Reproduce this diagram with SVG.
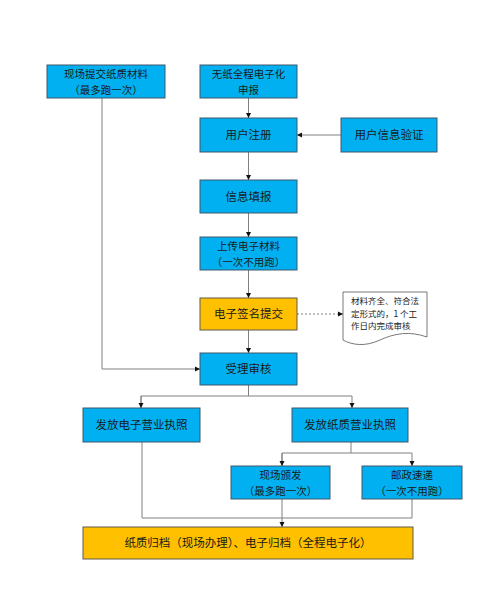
<svg xmlns="http://www.w3.org/2000/svg" width="501" height="604" viewBox="0 0 501 604">
<style>
.b{fill:#00B0F0;stroke:#41566a;stroke-width:1}
.o{fill:#FFC000;stroke:#5e5a4a;stroke-width:1}
.t{font-family:"Noto Sans CJK SC","Noto Sans",sans-serif;font-size:11.5px;fill:#1a1a1a;text-anchor:middle}
.t2{font-family:"Noto Sans CJK SC","Noto Sans",sans-serif;font-size:10.5px;fill:#1a1a1a;text-anchor:middle}
.n{font-family:"Noto Sans CJK SC","Noto Sans",sans-serif;font-size:8.5px;fill:#222}
.c{fill:none;stroke:#808080;stroke-width:1}
</style>
<defs>
<marker id="a" markerWidth="6" markerHeight="6" refX="5" refY="3" orient="auto" markerUnits="userSpaceOnUse">
<path d="M0,0.5 L5,3 L0,5.5 Z" fill="#111"/>
</marker>
</defs>
<rect width="501" height="604" fill="#fff"/>
<g id="connectors">
<path class="c" d="M248.5,98 V118" marker-end="url(#a)"/>
<path class="c" d="M341,135 H297" marker-end="url(#a)"/>
<path class="c" d="M248.5,152 V180" marker-end="url(#a)"/>
<path class="c" d="M248.5,213 V237" marker-end="url(#a)"/>
<path class="c" d="M248.5,270 V298" marker-end="url(#a)"/>
<path class="c" d="M297,314 H343" stroke-dasharray="2,2" marker-end="url(#a)"/>
<path class="c" d="M248.5,330 V353" marker-end="url(#a)"/>
<path class="c" d="M102,98 V369 H200" marker-end="url(#a)"/>
<path class="c" d="M248.5,385 V396"/>
<path class="c" d="M141,408 V396 H352 V408" marker-end="url(#a)"/>
<path class="c" d="M141,396 V408" marker-end="url(#a)"/>
<path class="c" d="M351,442 V453"/>
<path class="c" d="M282,466 V453 H412 V466" marker-end="url(#a)"/>
<path class="c" d="M282,453 V466" marker-end="url(#a)"/>
<path class="c" d="M142,442 V518 H412 V499"/>
<path class="c" d="M282,499 V527" marker-end="url(#a)"/>
</g>
<g id="n1"><rect class="b" x="47" y="65" width="118" height="33"/><text class="t2" x="106" y="78">现场提交纸质材料</text><text class="t2" x="106" y="93.5">（最多跑一次）</text></g>
<g id="n2"><rect class="b" x="200" y="65" width="97" height="33"/><text class="t2" x="248.5" y="78">无纸全程电子化</text><text class="t2" x="248.5" y="93.5">申报</text></g>
<g id="n3"><rect class="b" x="200" y="118" width="97" height="34"/><text class="t" x="248.5" y="139">用户注册</text></g>
<g id="n4"><rect class="b" x="341" y="118" width="96" height="34"/><text class="t" x="389" y="139">用户信息验证</text></g>
<g id="n5"><rect class="b" x="200" y="180" width="97" height="33"/><text class="t" x="248.5" y="201">信息填报</text></g>
<g id="n6"><rect class="b" x="200" y="237" width="97" height="33"/><text class="t2" x="248.5" y="250">上传电子材料</text><text class="t2" x="248.5" y="265.5">（一次不用跑）</text></g>
<g id="n7"><rect class="o" x="200" y="298" width="97" height="32"/><text class="t" x="248.5" y="318">电子签名提交</text></g>
<g id="note"><path d="M343,292 H427 V337 C410,331 395,333 380,340 C365,347 352,345 343,340 Z" fill="#fff" stroke="#555" stroke-width="0.8"/>
<text class="n" x="351" y="304">材料齐全、符合法</text><text class="n" x="351" y="316.5">定形式的，1 个工</text><text class="n" x="351" y="329">作日内完成审核</text></g>
<g id="n8"><rect class="b" x="200" y="353" width="97" height="32"/><text class="t" x="248.5" y="373">受理审核</text></g>
<g id="n9"><rect class="b" x="83" y="408" width="117" height="34"/><text class="t" x="141.5" y="429">发放电子营业执照</text></g>
<g id="n10"><rect class="b" x="292" y="408" width="116" height="34"/><text class="t" x="350" y="429">发放纸质营业执照</text></g>
<g id="n11"><rect class="b" x="231" y="466" width="99" height="33"/><text class="t2" x="280.5" y="479">现场颁发</text><text class="t2" x="280.5" y="494.5">（最多跑一次）</text></g>
<g id="n12"><rect class="b" x="362" y="466" width="100" height="33"/><text class="t2" x="412" y="479">邮政速递</text><text class="t2" x="412" y="494.5">（一次不用跑）</text></g>
<g id="n13"><rect class="o" x="83" y="527" width="330" height="32"/><text class="t" x="248" y="547">纸质归档（现场办理）、电子归档（全程电子化）</text></g>
</svg>
